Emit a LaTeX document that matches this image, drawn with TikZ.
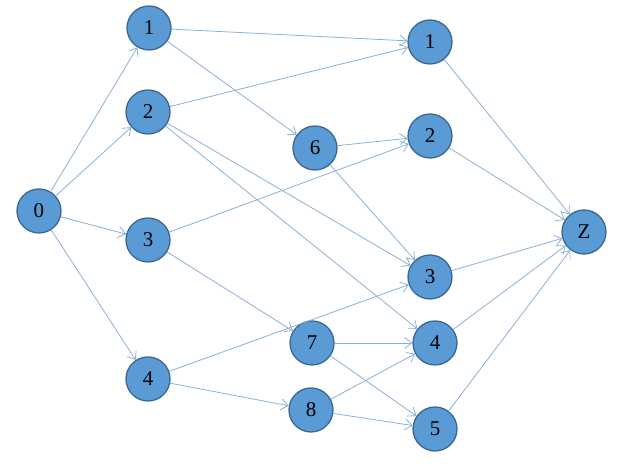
\documentclass[tikz,border=0pt]{standalone}
\usepackage{fontspec}
\setmainfont{Liberation Serif}
\usetikzlibrary{arrows.meta}
\definecolor{nodefill}{HTML}{5B9BD5}
\definecolor{nodeedge}{HTML}{3A6894}
\definecolor{edgecol}{HTML}{8AB0D8}
\begin{document}
\begin{tikzpicture}[x=1pt,y=1pt,
  vert/.style={circle,draw=nodeedge,line width=1.3pt,fill=nodefill,minimum size=44pt,inner sep=0pt,font=\fontsize{21}{23}\selectfont},
  edge/.style={draw=edgecol,line width=0.8pt,-{Straight Barb[length=7pt,width=11pt]}}]
\useasboundingbox (0,0) rectangle (627,470);
\node[vert] (s) at (39,259) {0};
\node[vert] (a1) at (149,442) {1};
\node[vert] (a2) at (148,358) {2};
\node[vert] (a3) at (148,230) {3};
\node[vert] (a4) at (148,91) {4};
\node[vert] (b6) at (315,322) {6};
\node[vert] (b7) at (312,127) {7};
\node[vert] (b8) at (311,60) {8};
\node[vert] (c1) at (430,428) {1};
\node[vert] (c2) at (430,334) {2};
\node[vert] (c3) at (430,193) {3};
\node[vert] (c4) at (435,127) {4};
\node[vert] (c5) at (435,41) {5};
\node[vert] (z) at (584,238) {Z};
\draw[edge] (s) -- (a1);
\draw[edge] (s) -- (a2);
\draw[edge] (s) -- (a3);
\draw[edge] (s) -- (a4);
\draw[edge] (a1) -- (c1);
\draw[edge] (a1) -- (b6);
\draw[edge] (a2) -- (c1);
\draw[edge] (a2) -- (c3);
\draw[edge] (a2) -- (c4);
\draw[edge] (a3) -- (c2);
\draw[edge] (a3) -- (b7);
\draw[edge] (a4) -- (c3);
\draw[edge] (a4) -- (b8);
\draw[edge] (b6) -- (c2);
\draw[edge] (b6) -- (c3);
\draw[edge] (b7) -- (c4);
\draw[edge] (b7) -- (c5);
\draw[edge] (b8) -- (c4);
\draw[edge] (b8) -- (c5);
\draw[edge] (c1) -- (z);
\draw[edge] (c2) -- (z);
\draw[edge] (c3) -- (z);
\draw[edge] (c4) -- (z);
\draw[edge] (c5) -- (z);
\end{tikzpicture}
\end{document}
